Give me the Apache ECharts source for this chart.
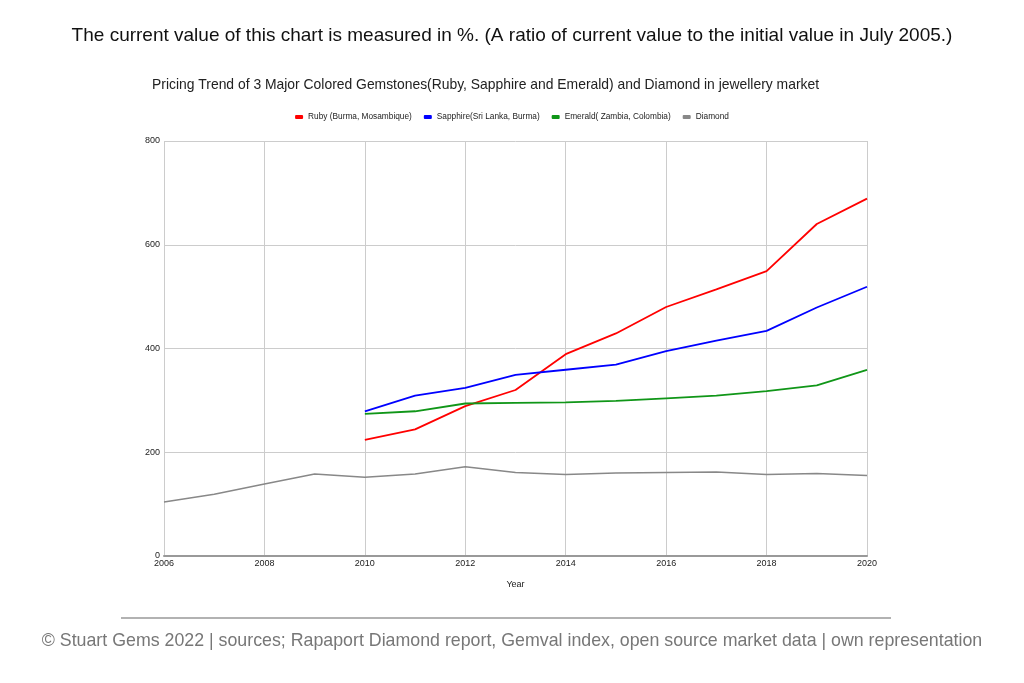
<!DOCTYPE html>
<html><head><meta charset="utf-8">
<script src="https://cdn.jsdelivr.net/npm/echarts@6/dist/echarts.min.js"></script>
<style>html,body{margin:0;padding:0;background:#fff}#c{width:1024px;height:683px}</style>
</head><body><div id="c"></div>
<script>
const years = [2006,2007,2008,2009,2010,2011,2012,2013,2014,2015,2016,2017,2018,2019,2020];
const ruby     = [null,null,null,null,224,244,289,320,389,429,480,514,549,640,689];
const sapphire = [null,null,null,null,279,309,324,349,359,369,395,415,434,479,519];
const emerald  = [null,null,null,null,274,279,294,295,296,299,304,309,318,329,359];
const diamond  = [104,119,139,158,152,158,172,161,157,160,161,162,157,159,155];
const seriesNames = ['Ruby (Burma, Mosambique)','Sapphire(Sri Lanka, Burma)','Emerald( Zambia, Colombia)','Diamond'];
const colors = ['#ff0000','#0000ff','#109618','#888888'];
const yTicks = [0,200,400,600,800];

const pairs = arr => years.map((y,i)=>[y,arr[i]]).filter(p=>p[1]!==null);
const font = '"Liberation Sans", Arial, sans-serif';
const chart = echarts.init(document.getElementById('c'));
chart.setOption({
  animation:false,
  title:[
    {text:'The current value of this chart is measured in %. (A ratio of current value to the initial value in July 2005.)',left:'center',top:21,
     textStyle:{fontFamily:font,fontSize:19,fontWeight:'normal',color:'#111'}},
    {text:'Pricing Trend of 3 Major Colored Gemstones(Ruby, Sapphire and Emerald) and Diamond in jewellery market',left:147,top:73,
     textStyle:{fontFamily:font,fontSize:13.9,fontWeight:'normal',color:'#222'}},
    {text:'© Stuart Gems 2022 | sources; Rapaport Diamond report, Gemval index, open source market data | own representation',left:'center',top:627,
     textStyle:{fontFamily:font,fontSize:17.8,fontWeight:'normal',color:'#777'}}
  ],
  graphic:[{type:'line',shape:{x1:121,y1:618,x2:891,y2:618},style:{stroke:'#999',lineWidth:1.5}}],
  legend:{top:108,left:'center',itemWidth:8,itemHeight:4,itemGap:12,icon:'roundRect',
    textStyle:{fontFamily:font,fontSize:8.3,color:'#222'},data:seriesNames},
  grid:{left:164,right:157,top:141,bottom:127},
  xAxis:{type:'value',min:2006,max:2020,interval:2,name:'Year',nameLocation:'middle',nameGap:24,
    nameTextStyle:{fontFamily:font,fontSize:9,color:'#222'},
    axisLine:{show:true,lineStyle:{color:'#999',width:2}},axisTick:{show:false},
    axisLabel:{fontFamily:font,fontSize:9,color:'#222',margin:3,formatter:v=>String(v)},
    splitLine:{show:true,lineStyle:{color:'#ccc',width:1}}},
  yAxis:{type:'value',min:0,max:800,interval:200,
    axisLine:{show:false},axisTick:{show:false},
    axisLabel:{fontFamily:font,fontSize:9,color:'#222',margin:4,formatter:v=>yTicks.includes(v)?String(v):''},
    splitLine:{show:true,lineStyle:{color:'#ccc',width:1}}},
  series:[ruby,sapphire,emerald,diamond].map((d,i)=>({
    name:seriesNames[i],type:'line',data:pairs(d),showSymbol:false,symbol:'none',
    lineStyle:{color:colors[i],width:i===3?1.5:1.8},itemStyle:{color:colors[i]}
  }))
});
</script></body></html>
